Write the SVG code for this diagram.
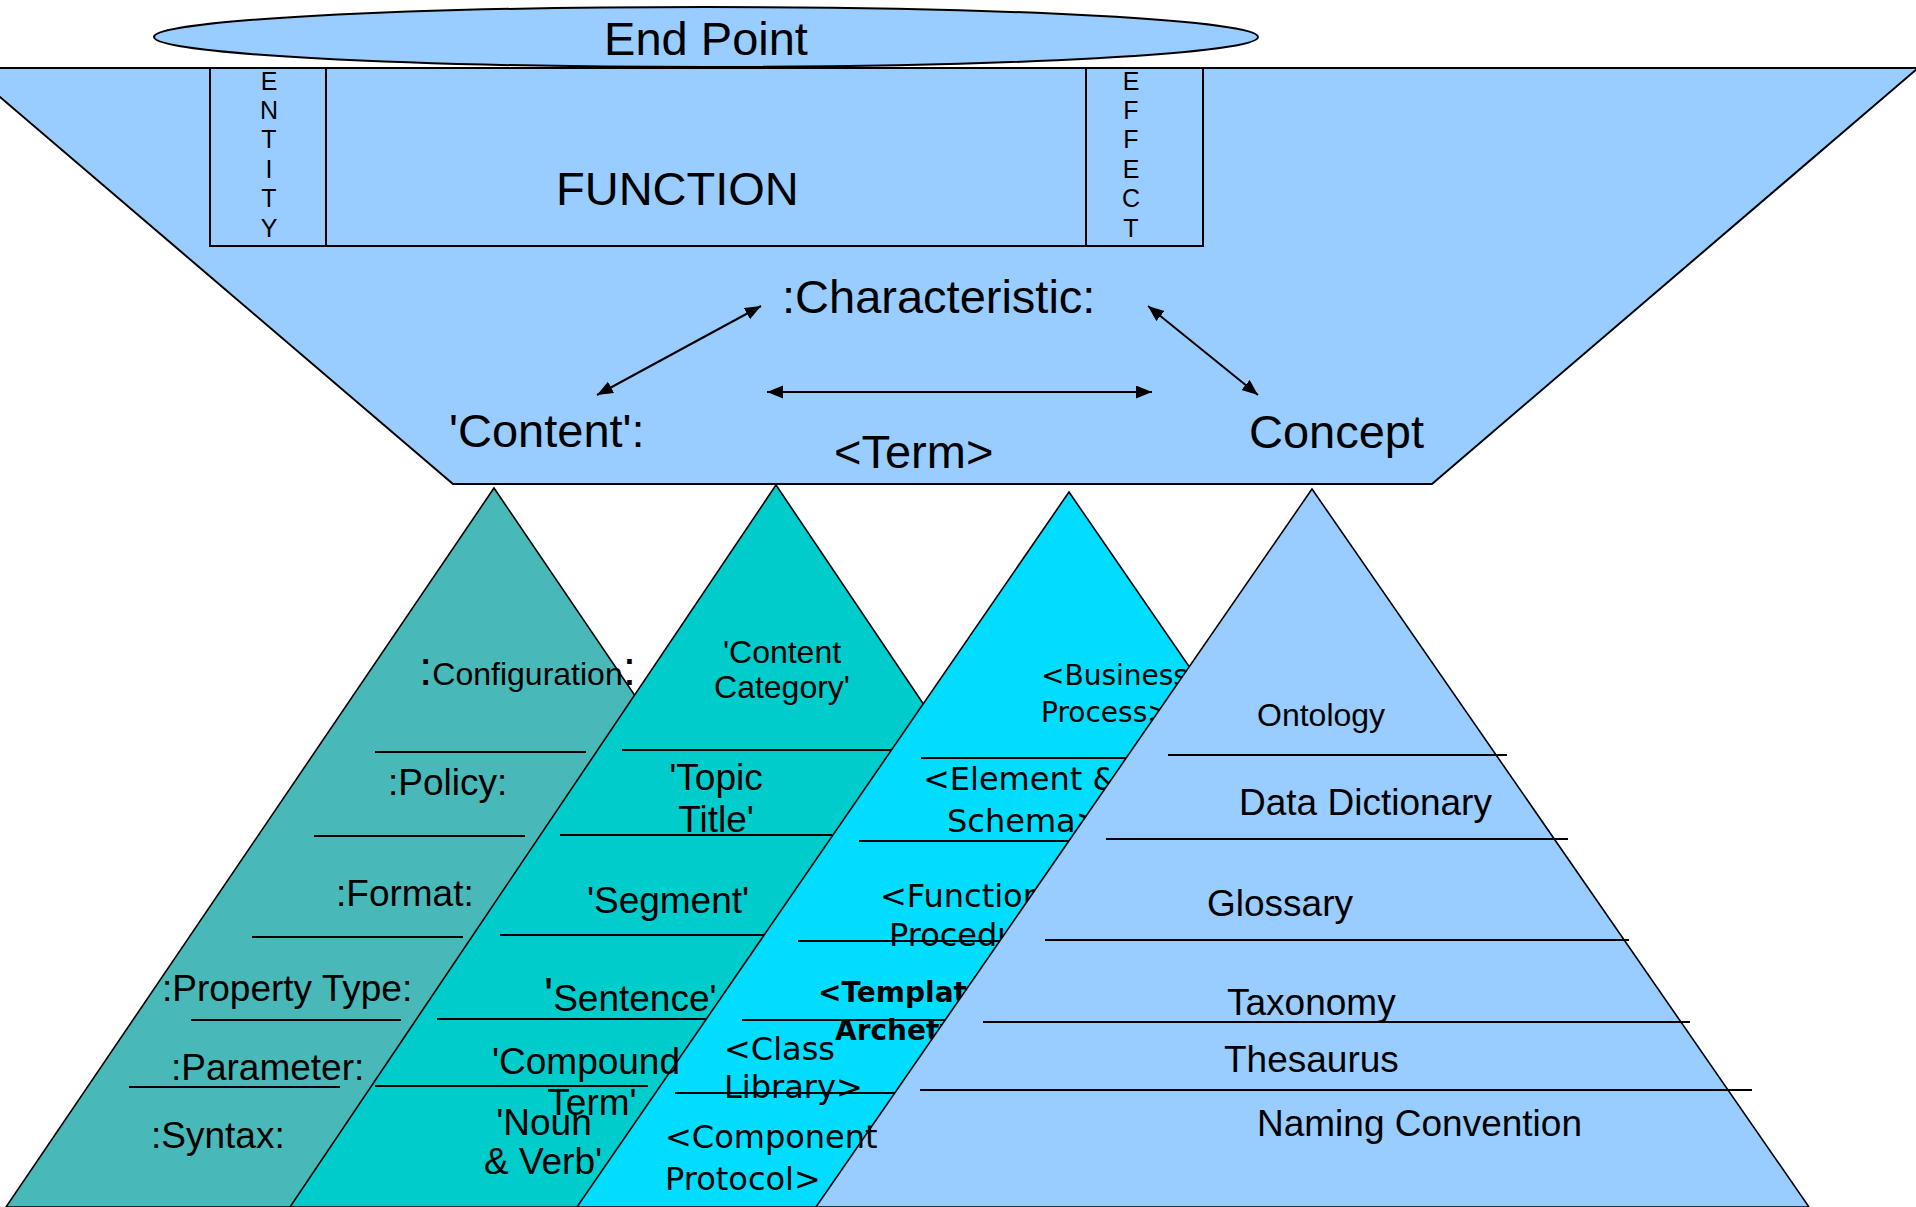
<svg xmlns="http://www.w3.org/2000/svg" width="1916" height="1207" viewBox="0 0 1916 1207">
<defs>
<style>
text{font-family:"Liberation Sans",Arial,sans-serif;fill:#000;font-size:37px}
.big{font-size:47px}
.sm{font-size:32px}
.let{font-size:25px;text-anchor:middle}
.mid{text-anchor:middle}
.v{font-family:"DejaVu Sans",Verdana,sans-serif;font-size:32px}
.vs{font-size:28px}
.vb{font-weight:bold;font-size:28px}
.ln{stroke:#000;stroke-width:2;fill:none}
.tri{stroke:#000;stroke-width:1.6}
.conn{stroke:#000;stroke-width:2;fill:none;marker-start:url(#ah);marker-end:url(#ah)}
</style>
<marker id="ah" markerUnits="userSpaceOnUse" markerWidth="18" markerHeight="14" refX="16" refY="6.5" orient="auto-start-reverse"><path d="M0,0 L16,6.5 L0,13 z" fill="#000"/></marker>
</defs>
<rect width="1916" height="1207" fill="#fff"/>

<g id="funnel">
<polygon points="-34,68 1918,68 1432,484 453,484" fill="#99CCFF" stroke="#000" stroke-width="2"/>
<rect x="210" y="68" width="993" height="178" fill="none" stroke="#000" stroke-width="2"/>
<line class="ln" x1="326" y1="68" x2="326" y2="246"/>
<line class="ln" x1="1086" y1="68" x2="1086" y2="246"/>
<text class="big" x="556" y="205">FUNCTION</text>
<text class="big" x="782" y="313">:Characteristic:</text>
<text class="big" x="449" y="447">'Content':</text>
<text class="big" x="834" y="468">&lt;Term&gt;</text>
<text class="big" x="1249" y="448">Concept</text>
</g>

<g id="entity">
<text class="let" x="269" y="90">E</text>
<text class="let" x="269" y="119">N</text>
<text class="let" x="269" y="148">T</text>
<text class="let" x="269" y="178">I</text>
<text class="let" x="269" y="207">T</text>
<text class="let" x="269" y="237">Y</text>
</g>

<g id="effect">
<text class="let" x="1131" y="90">E</text>
<text class="let" x="1131" y="119">F</text>
<text class="let" x="1131" y="148">F</text>
<text class="let" x="1131" y="178">E</text>
<text class="let" x="1131" y="207">C</text>
<text class="let" x="1131" y="237">T</text>
</g>

<g id="endpoint">
<ellipse cx="706" cy="37" rx="552" ry="30" fill="#99CCFF" stroke="#000" stroke-width="2"/>
<text class="big mid" x="706" y="55">End Point</text>
</g>

<g id="connectors">
<line class="conn" x1="761" y1="306" x2="597" y2="395"/>
<line class="conn" x1="767" y1="392" x2="1152" y2="392"/>
<line class="conn" x1="1148" y1="306" x2="1258" y2="395"/>
</g>

<g id="pyramid-syntax">
<polygon class="tri" points="494,488 982,1207 6,1207" fill="#48B8B8"/>
<line class="ln" x1="375" y1="752" x2="586" y2="752"/>
<line class="ln" x1="314" y1="836" x2="525" y2="836"/>
<line class="ln" x1="252" y1="937" x2="463" y2="937"/>
<line class="ln" x1="191" y1="1020" x2="401" y2="1020"/>
<line class="ln" x1="129" y1="1087" x2="340" y2="1087"/>
<text x="419" y="685"><tspan style="font-size:48px">:</tspan><tspan class="sm">Configuration</tspan><tspan style="font-size:48px">:</tspan></text>
<text x="388" y="795">:Policy:</text>
<text x="336" y="906">:Format:</text>
<text x="162" y="1001">:Property Type:</text>
<text x="171" y="1080">:Parameter:</text>
<text x="151" y="1148">:Syntax:</text>
</g>

<g id="pyramid-content">
<polygon class="tri" points="776,485 1262,1207 290,1207" fill="#00CCCC"/>
<line class="ln" x1="622" y1="750" x2="894" y2="750"/>
<line class="ln" x1="560" y1="835" x2="832" y2="835"/>
<line class="ln" x1="500" y1="935" x2="770" y2="935"/>
<line class="ln" x1="437" y1="1019" x2="710" y2="1019"/>
<line class="ln" x1="375" y1="1086" x2="648" y2="1086"/>
</g>

<g id="pyramid-term">
<polygon class="tri" points="1069,492 1561,1207 577,1207" fill="#00DDFF"/>
<line class="ln" x1="921" y1="758" x2="1130" y2="758"/>
<line class="ln" x1="859" y1="841" x2="1072" y2="841"/>
<line class="ln" x1="798" y1="941" x2="1002" y2="941"/>
<line class="ln" x1="742" y1="1020" x2="948" y2="1020"/>
<line class="ln" x1="675" y1="1093" x2="895" y2="1093"/>
</g>

<g id="content-labels">
<text class="sm mid" x="782" y="663">'Content</text>
<text class="sm mid" x="782" y="698">Category'</text>
<text class="mid" x="716" y="790">'Topic</text>
<text class="mid" x="716" y="832">Title'</text>
<text class="mid" x="668" y="913">'Segment'</text>
<text x="544" y="1011"><tspan style="font-size:48px">'</tspan>Sentence'</text>
<text class="mid" x="586" y="1074">'Compound</text>
<text class="mid" x="592" y="1115">Term'</text>
<text class="mid" x="544" y="1135">'Noun</text>
<text class="mid" x="543" y="1174">&amp; Verb'</text>
</g>

<g id="term-labels">
<text class="v vs" x="1041" y="685">&lt;Business</text>
<text class="v vs" x="1041" y="722">Process&gt;</text>
<text class="v" x="923" y="790">&lt;Element &amp;</text>
<text class="v" x="947" y="832">Schema&gt;</text>
<text class="v" x="880" y="907">&lt;Function</text>
<text class="v" x="889" y="946">Procedure&gt;</text>
<text class="v vb" x="818" y="1002">&lt;Template</text>
<text class="v vb" x="835" y="1040">Archetype&gt;</text>
<text class="v" x="724" y="1060">&lt;Class</text>
<text class="v" x="724" y="1098">Library&gt;</text>
</g>

<g id="pyramid-concept">
<polygon class="tri" points="1312,489 1809,1207 816,1207" fill="#99CCFF"/>
<line class="ln" x1="1168" y1="755" x2="1507" y2="755"/>
<line class="ln" x1="1106" y1="839" x2="1568" y2="839"/>
<line class="ln" x1="1045" y1="940" x2="1629" y2="940"/>
<line class="ln" x1="983" y1="1022" x2="1690" y2="1022"/>
<line class="ln" x1="920" y1="1090" x2="1752" y2="1090"/>
<text class="sm" x="1257" y="726">Ontology</text>
<text x="1239" y="815">Data Dictionary</text>
<text x="1207" y="916">Glossary</text>
<text x="1227" y="1015">Taxonomy</text>
<text x="1224" y="1072">Thesaurus</text>
<text x="1257" y="1136">Naming Convention</text>
</g>

<g id="component-label">
<text class="v" x="665" y="1148">&lt;Component</text>
<text class="v" x="665" y="1190">Protocol&gt;</text>
</g>
</svg>
